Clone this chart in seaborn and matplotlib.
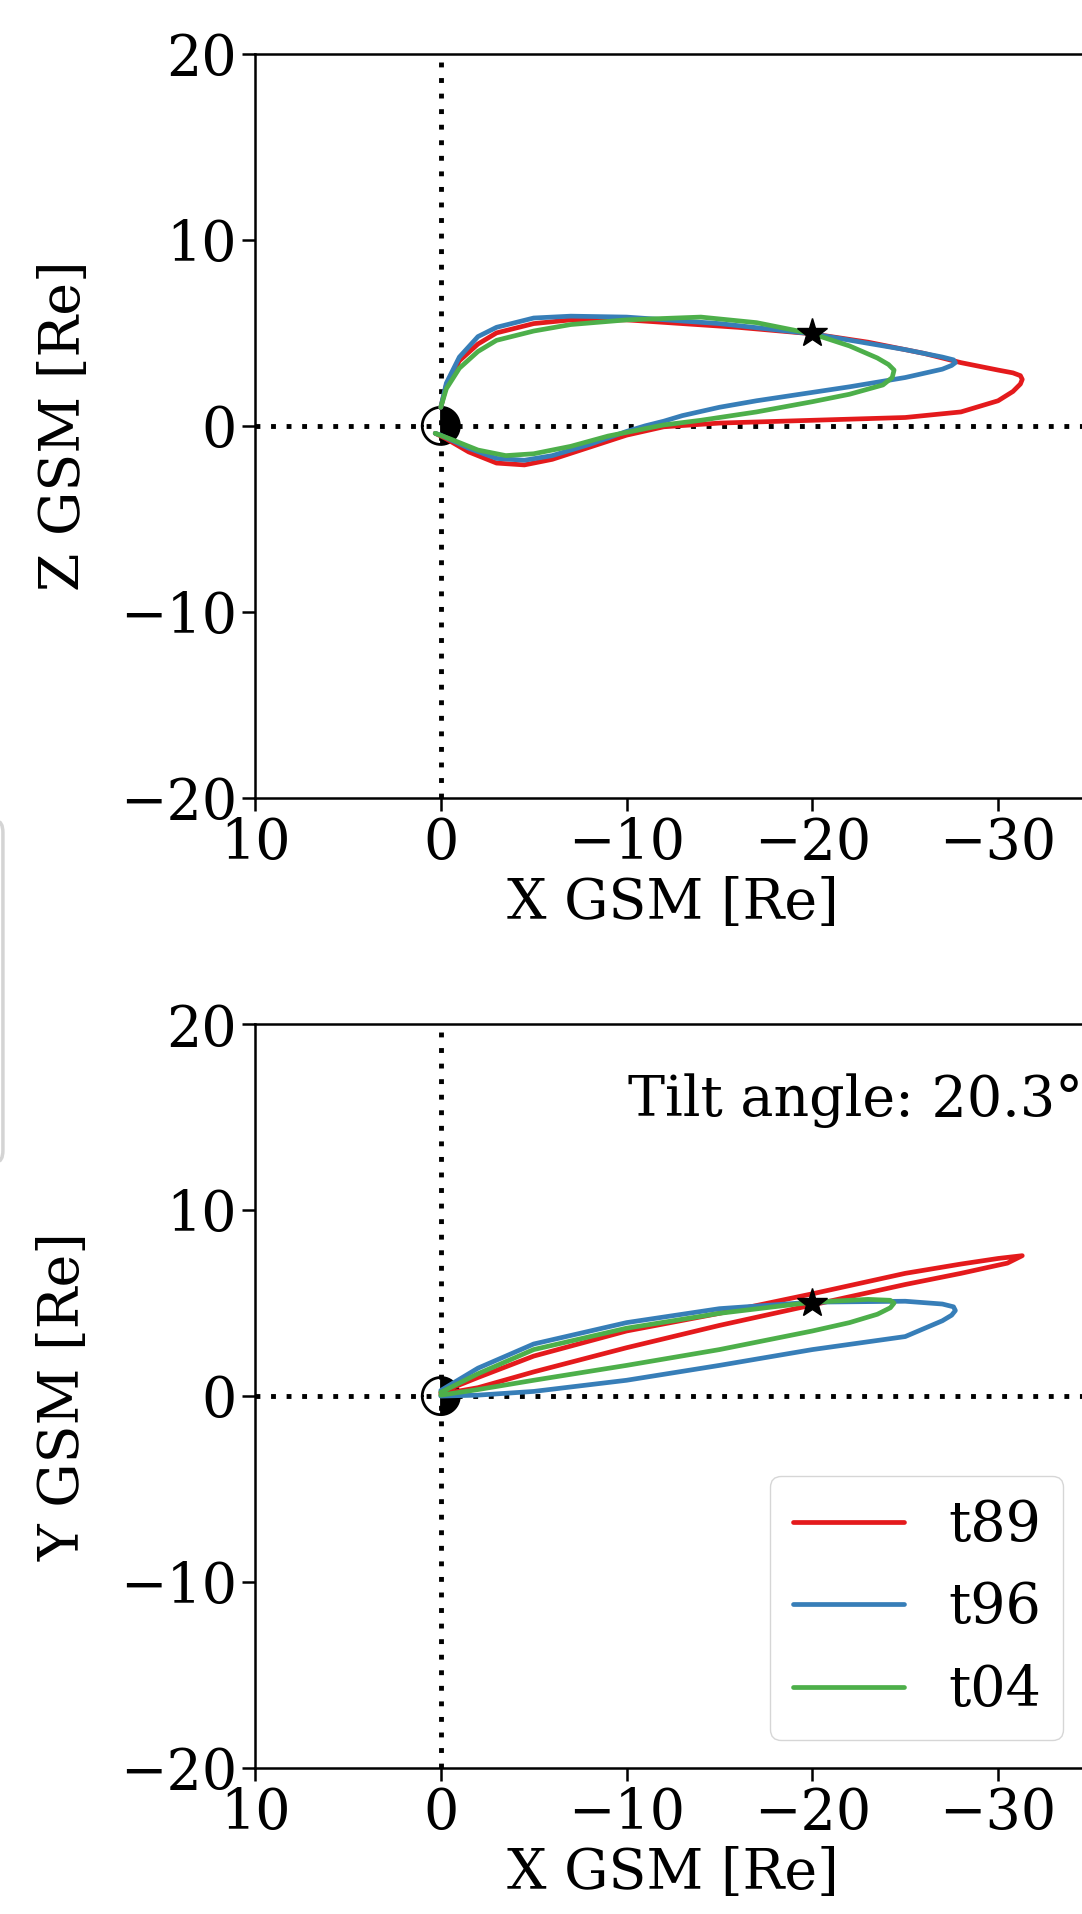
import numpy as np
import pandas as pd
import seaborn as sns
import matplotlib.pyplot as plt
from matplotlib.patches import FancyBboxPatch

sns.set_style("ticks")
plt.rcParams['font.family'] = ['DejaVu Serif']
for k in ["text.color", "axes.labelcolor", "xtick.color", "ytick.color", "axes.edgecolor"]:
    plt.rcParams[k] = "black"

# field lines traced through the spacecraft position (X-Z plane)
t89_xz_x = [0, -0.3, -1, -2, -3, -5, -7, -10, -13, -16, -20, -23, -26, -28, -30, -30.8, -31.2, -31.3,
            -31.2, -30.8, -30, -28, -25, -20, -15, -12, -10, -8, -6, -4.5, -3, -1.5, -0.3, 0.3]
t89_xz_z = [1.0, 2.2, 3.5, 4.4, 5.0, 5.5, 5.7, 5.7, 5.5, 5.3, 4.95, 4.5, 3.9, 3.4, 3.0, 2.85, 2.7, 2.5,
            2.25, 1.85, 1.35, 0.75, 0.45, 0.3, 0.15, -0.05, -0.5, -1.15, -1.8, -2.1, -2.0, -1.4, -0.7, -0.4]
t96_xz_x = [0, -0.3, -1, -2, -3, -5, -7, -10, -15, -20, -25, -27, -27.6, -27.7,
            -27.5, -27, -25, -22, -20, -17, -15, -13, -12, -11, -10, -8, -6, -4.5, -3, -1.5, 0, 0.3]
t96_xz_z = [1.0, 2.3, 3.7, 4.8, 5.3, 5.8, 5.9, 5.85, 5.5, 4.95, 4.1, 3.7, 3.55, 3.4,
            3.25, 3.05, 2.6, 2.1, 1.8, 1.35, 1.0, 0.55, 0.25, 0.0, -0.3, -1.0, -1.6, -1.85, -1.75, -1.2, -0.5, -0.4]
t04_xz_x = [0, -0.3, -1, -2, -3, -5, -7, -10, -14, -17, -20, -22, -23.5, -24.1, -24.4,
            -24.3, -23.8, -22, -20, -17, -14, -12, -11, -9, -7, -5, -3.5, -2, -0.5, 0.3]
t04_xz_z = [1.0, 2.0, 3.1, 4.0, 4.6, 5.1, 5.45, 5.7, 5.85, 5.55, 4.95, 4.3, 3.65, 3.3, 3.0,
            2.6, 2.2, 1.7, 1.3, 0.75, 0.3, 0.05, -0.15, -0.55, -1.1, -1.5, -1.6, -1.3, -0.7, -0.4]

# same field lines in the X-Y plane
t89_xy_x = [0, -2, -5, -10, -15, -20, -25, -28, -30, -31.3,
            -30.5, -28, -25, -20, -15, -10, -5, -2, 0]
t89_xy_y = [0.2, 1.0, 2.15, 3.5, 4.45, 5.5, 6.6, 7.1, 7.4, 7.55,
            7.15, 6.6, 6.0, 4.9, 3.8, 2.6, 1.3, 0.45, 0.1]
t96_xy_x = [0, -2, -5, -10, -15, -20, -25, -27, -27.6, -27.7,
            -27.5, -27, -25, -20, -15, -10, -5, -2, 0]
t96_xy_y = [0.3, 1.5, 2.8, 3.95, 4.7, 5.05, 5.1, 4.95, 4.8, 4.6,
            4.35, 4.05, 3.2, 2.5, 1.65, 0.85, 0.25, 0.05, 0.0]
t04_xy_x = [0, -2, -5, -10, -15, -20, -23, -24.2, -24.4,
            -24.2, -23.5, -22, -20, -15, -10, -5, -2, 0]
t04_xy_y = [0.2, 1.2, 2.5, 3.65, 4.45, 5.05, 5.2, 5.15, 5.0,
            4.75, 4.4, 3.95, 3.5, 2.5, 1.65, 0.85, 0.35, 0.05]

models = ["t89", "t96", "t04"]
colors = ["#e41a1c", "#377eb8", "#4daf4a"]
sc_x, sc_y, sc_z = -20, 5, 5
tilt = 20.3


def frame(pairs):
    rows = []
    for m, (xs, ys) in zip(models, pairs):
        rows.append(pd.DataFrame({"x": xs, "y": ys, "model": m}))
    return pd.concat(rows, ignore_index=True)


xz = frame([(t89_xz_x, t89_xz_z), (t96_xz_x, t96_xz_z), (t04_xz_x, t04_xz_z)])
xy = frame([(t89_xy_x, t89_xy_y), (t96_xy_x, t96_xy_y), (t04_xy_x, t04_xy_y)])

fig = plt.figure(figsize=(10.82, 19.14), dpi=100)
ax1 = fig.add_axes([0.2357, 0.5832, 0.7726, 0.3886])
ax2 = fig.add_axes([0.2357, 0.0763, 0.7726, 0.3886])

# edge of a neighbouring legend, cut off at the left
fig.add_artist(FancyBboxPatch((-0.3, 0.393), 0.3027, 0.178, boxstyle="round,pad=0,rounding_size=0.006",
                              transform=fig.transFigure, fc="white", ec="#d4d4d4", lw=2.5))

th = np.linspace(0, 2 * np.pi, 200)
for ax, df, ylab, sy in [(ax1, xz, "Z GSM [Re]", sc_z), (ax2, xy, "Y GSM [Re]", sc_y)]:
    ax.axhline(0, color="k", ls=(0, (1, 2.2)), lw=3.5, zorder=1)
    ax.axvline(0, color="k", ls=(0, (1, 2.2)), lw=3.5, zorder=1)
    sns.lineplot(data=df, x="x", y="y", hue="model", palette=colors, sort=False,
                 estimator=None, lw=3.4, ax=ax, legend=(ax is ax2), zorder=3)
    # Earth, night side filled
    half = np.linspace(-np.pi / 2, np.pi / 2, 100)
    ax.fill(-np.cos(half), np.sin(half), color="k", zorder=2)
    ax.plot(np.cos(th), np.sin(th), color="k", lw=2, zorder=2)
    ax.plot(sc_x, sy, marker="*", color="k", ms=22, zorder=4)
    ax.set_xlim(10, -35)
    ax.set_ylim(-20, 20)
    ax.set_xticks([10, 0, -10, -20, -30])
    ax.set_yticks([-20, -10, 0, 10, 20])
    ax.set_xlabel("X GSM [Re]", fontsize=40, labelpad=4)
    ax.set_ylabel(ylab, fontsize=40, labelpad=20)
    ax.tick_params(labelsize=40, length=9.5, width=1.8)
    for s in ax.spines.values():
        s.set_linewidth(1.8)

ax2.text(-10.1, 15.9, "Tilt angle: %.1f°" % tilt, fontsize=40, va="center", ha="left")
leg = ax2.legend(loc="lower right", fontsize=40, handlelength=2)
for line in leg.get_lines():
    line.set_linewidth(3.4)

fig.savefig("out.png", dpi=100)
